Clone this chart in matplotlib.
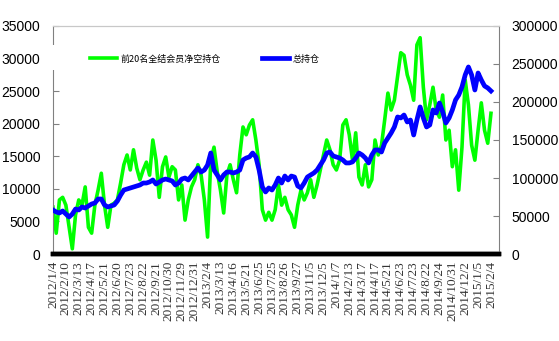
import numpy as np
import matplotlib.pyplot as plt
from matplotlib.patches import Rectangle

# category labels, one every 4 samples
dates = ['2012/1/4', '2012/2/10', '2012/3/13', '2012/4/17', '2012/5/21', '2012/6/20',
         '2012/7/23', '2012/8/22', '2012/9/21', '2012/10/30', '2012/11/29', '2012/12/31',
         '2013/2/4', '2013/3/13', '2013/4/16', '2013/5/21', '2013/6/25', '2013/7/25',
         '2013/8/26', '2013/9/27', '2013/11/5', '2013/12/5', '2014/1/7', '2014/2/13',
         '2014/3/17', '2014/4/17', '2014/5/21', '2014/6/23', '2014/7/23', '2014/8/22',
         '2014/9/24', '2014/10/31', '2014/12/2', '2015/1/5', '2015/2/4']

# 前20名全结会员净空持仓 (left axis)
net_short = [7200, 3200, 8300, 8700, 7500, 4100, 800, 6000, 8300, 7500,
             10300, 4100, 3200, 7500, 9800, 12400, 7500, 4100, 7500, 7800,
             8300, 10900, 13700, 15200, 12900, 16000, 13200, 11400, 12900, 14100,
             12100, 17500, 14400, 8700, 13400, 14900, 11800, 13400, 12900, 8300,
             10600, 5200, 8300, 10300, 11400, 13700, 12100, 8300, 2600, 14400,
             16400, 12600, 9800, 6300, 12100, 13700, 11400, 9400, 15200, 19500,
             18300, 19800, 20600, 17500, 13700, 6800, 5200, 6400, 5200, 6800,
             10600, 7500, 8700, 6800, 6000, 4100, 7500, 9800, 8300, 9400,
             11400, 8700, 10600, 12900, 15200, 17500, 16000, 13700, 12900, 14400,
             19800, 20600, 18300, 14400, 18600, 11800, 10600, 13700, 10300, 11400,
             17500, 15200, 16700, 20600, 24700, 22100, 23600, 27200, 30900, 30500,
             27500, 25900, 23600, 32100, 33200, 25600, 20600, 22900, 25600, 22100,
             21000, 24400, 17500, 19000, 13400, 16000, 9800, 16400, 26700, 22900,
             16700, 14400, 19000, 23200, 19000, 17000, 21600]

# 总持仓 (right axis)
total_oi = [57900, 55300, 54000, 56600, 52600, 48700, 52600, 59200, 57900, 61900,
            60500, 63200, 65800, 67100, 72400, 72400, 64500, 61900, 63200, 64500,
            69700, 77600, 84200, 85500, 86900, 88200, 89500, 90800, 93400, 93400,
            94800, 97400, 92100, 94800, 97400, 98700, 97400, 96100, 90800, 93400,
            98700, 100000, 97400, 102600, 107900, 113200, 107900, 110500, 117100, 132900,
            110500, 104000, 97400, 104000, 107900, 107900, 106600, 107900, 110500, 123700,
            126300, 127700, 132900, 127700, 110500, 88200, 81600, 86900, 84200, 90800,
            100000, 93400, 102600, 97400, 102600, 101300, 89500, 86900, 93400, 101300,
            104000, 106600, 110500, 117100, 123700, 132900, 134200, 129000, 127700, 126300,
            123700, 119800, 119800, 121100, 126300, 132900, 130300, 126300, 119800, 130300,
            136900, 136900, 134200, 146100, 152700, 159200, 167100, 180300, 179000, 182900,
            173700, 176300, 156600, 176300, 193500, 179000, 167100, 169800, 189500, 185600,
            198700, 186900, 172400, 179000, 189500, 202700, 209200, 219800, 235600, 246100,
            235600, 215800, 238200, 229000, 221100, 218500, 214500]

plt.rcParams['font.family'] = ['Liberation Sans', 'DejaVu Sans']

fig = plt.figure(figsize=(5.59, 3.41), dpi=100)
ax1 = fig.add_axes([0.0948, 0.2551, 0.7979, 0.6687])
ax2 = ax1.twinx()

x = np.arange(len(net_short))
l1, = ax1.plot(x, net_short, color='#00ff00', lw=2.6, label='前20名全结会员净空持仓')
l2, = ax2.plot(x, total_oi, color='#0000ff', lw=3.4, label='总持仓')

ax1.set_xlim(0, 138.5)
ax1.set_ylim(0, 35000)
ax2.set_ylim(0, 300000)
ax1.set_yticks(range(0, 35001, 5000))
ax2.set_yticks(range(0, 300001, 50000))
ax1.set_xticks(x[::4])
ax1.set_xticklabels(dates, rotation=90, family='Liberation Serif', fontsize=9.5, color='#333333')

ax1.tick_params(axis='x', length=0, pad=5)
ax1.tick_params(axis='y', direction='in', length=4, color='#808080', labelsize=10, pad=9)
ax2.tick_params(axis='y', direction='in', length=4, color='#808080', labelsize=10, pad=9)

for ax in (ax1, ax2):
    ax.spines['top'].set_color('#c8c8c8')
    ax.spines['bottom'].set_color('black')
    ax.spines['bottom'].set_linewidth(3.2)
    ax.spines['left'].set_color('#808080')
    ax.spines['right'].set_color('#808080')
ax1.spines['right'].set_visible(False)
ax2.spines['left'].set_visible(False)

# white patch where the legend box sits over the left spine
ax2.add_patch(Rectangle((-0.006, 0.807), 0.022, 0.11, transform=ax2.transAxes,
                        facecolor='white', edgecolor='none', zorder=3, clip_on=False))

ax2.legend(handles=[l1, l2], ncol=2, frameon=False, loc='center left',
           bbox_to_anchor=(0.083, 0.855), borderaxespad=0, borderpad=0,
           handlelength=3.0, handletextpad=0.35, columnspacing=4.6,
           prop={'family': ['Noto Sans CJK SC', 'DejaVu Sans'], 'size': 6.5})

fig.savefig('out.png', dpi=100)
